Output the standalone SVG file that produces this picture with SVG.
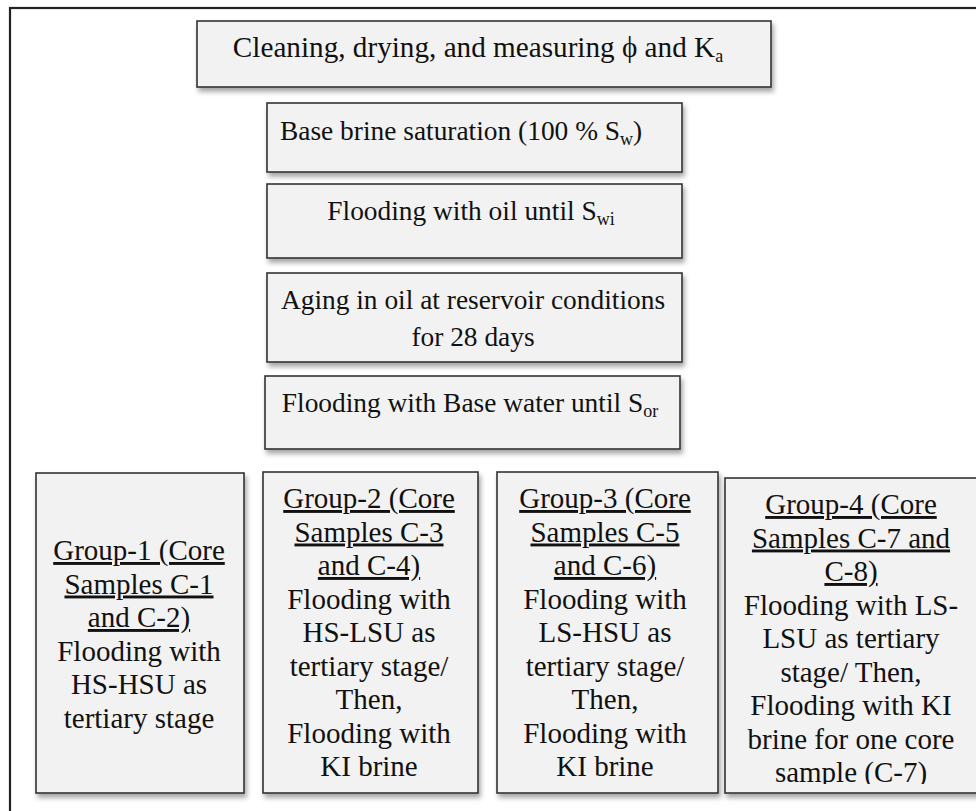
<svg xmlns="http://www.w3.org/2000/svg" width="976" height="811" viewBox="0 0 976 811">
<defs>
<filter id="sh" x="-10%" y="-10%" width="130%" height="130%">
<feDropShadow dx="2" dy="4" stdDeviation="2.5" flood-color="#000" flood-opacity="0.35"/>
</filter>
<clipPath id="g4clip"><rect x="725" y="478" width="260" height="306"/></clipPath>
</defs>
<style>
.box{fill:#f2f2f2;stroke:#333;stroke-width:1.6;filter:url(#sh)}
text{font-family:"Liberation Serif","Times New Roman",serif;font-size:29px;fill:#111}
.s{font-size:27.4px}
.t{font-size:29.2px}
.c{text-anchor:middle}
.u{text-decoration:underline}
.sub{font-size:18px}
</style>
<rect x="10" y="8" width="990" height="830" fill="#fff" stroke="#222" stroke-width="2.2"/>
<g id="connectors"></g>
<g id="n1">
<rect class="box" x="197" y="21" width="574" height="66"/>
<text x="478" y="57" class="c t">Cleaning, drying, and measuring ϕ and K<tspan class="sub" dy="5">a</tspan></text>
</g>
<g id="n2">
<rect class="box" x="267" y="103" width="415" height="69"/>
<text x="280" y="140" class="s">Base brine saturation (100 % S<tspan class="sub" dy="5">w</tspan><tspan dy="-5">)</tspan></text>
</g>
<g id="n3">
<rect class="box" x="267" y="184" width="415" height="74"/>
<text x="471" y="220" class="c s">Flooding with oil until S<tspan class="sub" dy="5">wi</tspan></text>
</g>
<g id="n4">
<rect class="box" x="267" y="273" width="415" height="89"/>
<text x="473" y="309" class="c s">Aging in oil at reservoir conditions</text>
<text x="473" y="346" class="c s">for 28 days</text>
</g>
<g id="n5">
<rect class="box" x="265" y="376" width="415" height="73"/>
<text x="470" y="412" class="c s">Flooding with Base water until S<tspan class="sub" dy="5">or</tspan></text>
</g>
<g id="g1">
<rect class="box" x="36" y="473" width="208" height="320"/>
<text x="139" y="560" class="c u">Group-1 (Core</text>
<text x="139" y="593.5" class="c u">Samples C-1</text>
<text x="139" y="627" class="c u">and C-2)</text>
<text x="139" y="660.5" class="c">Flooding with</text>
<text x="139" y="694" class="c">HS-HSU as</text>
<text x="139" y="727.5" class="c">tertiary stage</text>
</g>
<g id="g2">
<rect class="box" x="263" y="472" width="215" height="321"/>
<text x="369" y="508" class="c u">Group-2 (Core</text>
<text x="369" y="541.5" class="c u">Samples C-3</text>
<text x="369" y="575" class="c u">and C-4)</text>
<text x="369" y="608.5" class="c">Flooding with</text>
<text x="369" y="642" class="c">HS-LSU as</text>
<text x="369" y="675.5" class="c">tertiary stage/</text>
<text x="369" y="709" class="c">Then,</text>
<text x="369" y="742.5" class="c">Flooding with</text>
<text x="369" y="776" class="c">KI brine</text>
</g>
<g id="g3">
<rect class="box" x="497" y="472" width="221" height="321"/>
<text x="605" y="508" class="c u">Group-3 (Core</text>
<text x="605" y="541.5" class="c u">Samples C-5</text>
<text x="605" y="575" class="c u">and C-6)</text>
<text x="605" y="608.5" class="c">Flooding with</text>
<text x="605" y="642" class="c">LS-HSU as</text>
<text x="605" y="675.5" class="c">tertiary stage/</text>
<text x="605" y="709" class="c">Then,</text>
<text x="605" y="742.5" class="c">Flooding with</text>
<text x="605" y="776" class="c">KI brine</text>
</g>
<g id="g4">
<rect class="box" x="725" y="478" width="270" height="315"/>
<g clip-path="url(#g4clip)">
<text x="851" y="514" class="c u">Group-4 (Core</text>
<text x="851" y="547.5" class="c u">Samples C-7 and</text>
<text x="851" y="581" class="c u">C-8)</text>
<text x="851" y="614.5" class="c">Flooding with LS-</text>
<text x="851" y="648" class="c">LSU as tertiary</text>
<text x="851" y="681.5" class="c">stage/ Then,</text>
<text x="851" y="715" class="c">Flooding with KI</text>
<text x="851" y="748.5" class="c">brine for one core</text>
<text x="851" y="782" class="c">sample (C-7)</text>
</g>
</g>
</svg>
